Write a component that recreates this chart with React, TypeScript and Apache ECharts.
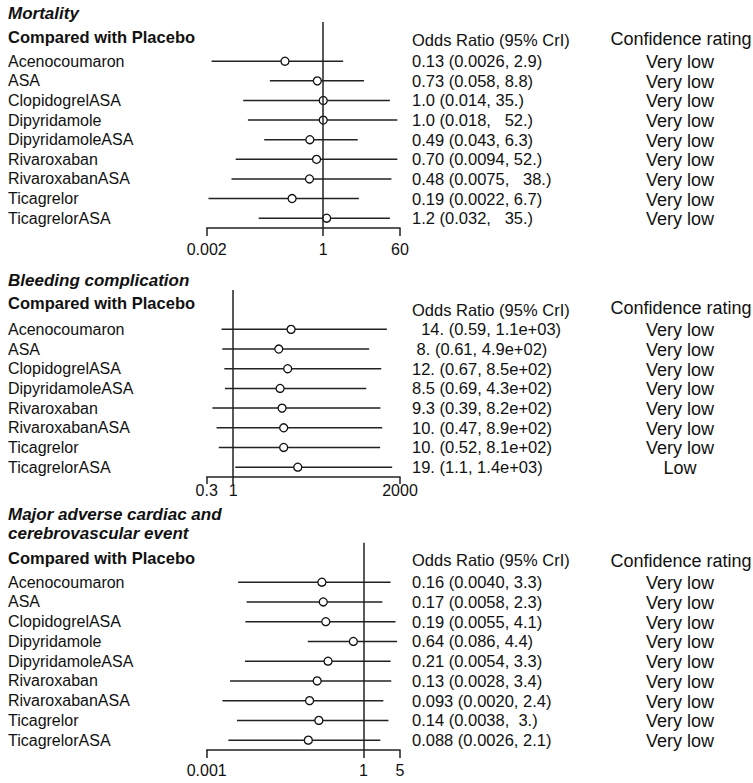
import React, { useEffect, useRef } from "react";
import * as echarts from "echarts";

// ---------- Data ----------
const mortalityTreatments = ["Acenocoumaron", "ASA", "ClopidogrelASA", "Dipyridamole", "DipyridamoleASA", "Rivaroxaban", "RivaroxabanASA", "Ticagrelor", "TicagrelorASA"];
const mortalityOR = [0.13, 0.73, 1.0, 1.0, 0.49, 0.70, 0.48, 0.19, 1.2];
const mortalityLow = [0.0026, 0.058, 0.014, 0.018, 0.043, 0.0094, 0.0075, 0.0022, 0.032];
const mortalityHigh = [2.9, 8.8, 35, 52, 6.3, 52, 38, 6.7, 35];
const mortalityText = ["0.13 (0.0026, 2.9)", "0.73 (0.058, 8.8)", "1.0 (0.014, 35.)", "1.0 (0.018,   52.)", "0.49 (0.043, 6.3)", "0.70 (0.0094, 52.)", "0.48 (0.0075,   38.)", "0.19 (0.0022, 6.7)", "1.2 (0.032,   35.)"];
const mortalityRating = ["Very low", "Very low", "Very low", "Very low", "Very low", "Very low", "Very low", "Very low", "Very low"];
const mortalityTicks = [0.002, 1, 60];

const bleedingTreatments = ["Acenocoumaron", "ASA", "ClopidogrelASA", "DipyridamoleASA", "Rivaroxaban", "RivaroxabanASA", "Ticagrelor", "TicagrelorASA"];
const bleedingOR = [14, 8, 12, 8.5, 9.3, 10, 10, 19];
const bleedingLow = [0.59, 0.61, 0.67, 0.69, 0.39, 0.47, 0.52, 1.1];
const bleedingHigh = [1100, 490, 850, 430, 820, 890, 810, 1400];
const bleedingText = ["  14. (0.59, 1.1e+03)", " 8. (0.61, 4.9e+02)", "12. (0.67, 8.5e+02)", "8.5 (0.69, 4.3e+02)", "9.3 (0.39, 8.2e+02)", "10. (0.47, 8.9e+02)", "10. (0.52, 8.1e+02)", "19. (1.1, 1.4e+03)"];
const bleedingRating = ["Very low", "Very low", "Very low", "Very low", "Very low", "Very low", "Very low", "Low"];
const bleedingTicks = [0.3, 1, 2000];

const maccTreatments = ["Acenocoumaron", "ASA", "ClopidogrelASA", "Dipyridamole", "DipyridamoleASA", "Rivaroxaban", "RivaroxabanASA", "Ticagrelor", "TicagrelorASA"];
const maccOR = [0.16, 0.17, 0.19, 0.64, 0.21, 0.13, 0.093, 0.14, 0.088];
const maccLow = [0.004, 0.0058, 0.0055, 0.086, 0.0054, 0.0028, 0.002, 0.0038, 0.0026];
const maccHigh = [3.3, 2.3, 4.1, 4.4, 3.3, 3.4, 2.4, 3, 2.1];
const maccText = ["0.16 (0.0040, 3.3)", "0.17 (0.0058, 2.3)", "0.19 (0.0055, 4.1)", "0.64 (0.086, 4.4)", "0.21 (0.0054, 3.3)", "0.13 (0.0028, 3.4)", "0.093 (0.0020, 2.4)", "0.14 (0.0038,  3.)", "0.088 (0.0026, 2.1)"];
const maccRating = ["Very low", "Very low", "Very low", "Very low", "Very low", "Very low", "Very low", "Very low", "Very low"];
const maccTicks = [0.001, 1, 5];

const panelTitles = [["Mortality"], ["Bleeding complication"], ["Major adverse cardiac and", "cerebrovascular event"]];
const subTitle = "Compared with Placebo";
const orHeader = "Odds Ratio (95% CrI)";
const ratingHeader = "Confidence rating";

// ---------- Layout ----------
const FONT = "'Liberation Sans', Arial, Helvetica, sans-serif";
const INK = "#111";
const LINE = "#222";
const GRID_LEFT = 206.7;
const GRID_WIDTH = 193.3;
const LABEL_X = 8;
const OR_X = 412;
const RATING_X = 680;

const panels = [
  { treatments: mortalityTreatments, or: mortalityOR, low: mortalityLow, high: mortalityHigh, text: mortalityText, rating: mortalityRating, ticks: mortalityTicks,
    top: 22, bottom: 228, labelMargin: 13, tickLen: 8, titleY: [13], subY: 37, orY: 39.5, ratingY: 38.5 },
  { treatments: bleedingTreatments, or: bleedingOR, low: bleedingLow, high: bleedingHigh, text: bleedingText, rating: bleedingRating, ticks: bleedingTicks,
    top: 290, bottom: 477, labelMargin: 5, tickLen: 7, titleY: [280], subY: 303, orY: 309.5, ratingY: 308 },
  { treatments: maccTreatments, or: maccOR, low: maccLow, high: maccHigh, text: maccText, rating: maccRating, ticks: maccTicks,
    top: 542.7, bottom: 750, labelMargin: 12, tickLen: 8, titleY: [514, 533.5], subY: 557.5, orY: 559.5, ratingY: 561 },
];

export default function App() {
  const ref = useRef<HTMLDivElement>(null);
  useEffect(() => {
    document.body.style.margin = "0";
    if (!ref.current) return;
    const chart = echarts.init(ref.current, null, { renderer: "svg" });

    const grids: any[] = [];
    const xAxes: any[] = [];
    const yAxes: any[] = [];
    const series: any[] = [];
    const graphics: any[] = [];

    panels.forEach((p, i) => {
      const n = p.treatments.length;
      grids.push({ left: GRID_LEFT, width: GRID_WIDTH, top: p.top, height: p.bottom - p.top, containLabel: false });
      const tickLogs = p.ticks.map((t) => Math.log10(t));
      xAxes.push({
        gridIndex: i,
        type: "value",
        min: tickLogs[0],
        max: tickLogs[tickLogs.length - 1],
        position: "bottom",
        splitLine: { show: false },
        axisLine: { show: true, onZero: false, lineStyle: { color: LINE, width: 1.5 } },
        axisTick: { show: true, customValues: tickLogs, length: p.tickLen, lineStyle: { color: LINE, width: 1.5 } },
        axisLabel: {
          show: true,
          customValues: tickLogs,
          margin: p.labelMargin,
          color: INK,
          fontSize: 16,
          fontFamily: FONT,
          formatter: (v: number) => {
            let best = 0;
            tickLogs.forEach((t, k) => { if (Math.abs(t - v) < Math.abs(tickLogs[best] - v)) best = k; });
            return String(p.ticks[best]);
          },
        },
      });
      yAxes.push({ gridIndex: i, type: "value", inverse: true, min: -1, max: n + 0.5, show: false });

      const ciData = p.treatments.map((_, k) => [k + 1, Math.log10(p.low[k]), Math.log10(p.high[k])]);
      series.push({
        type: "custom",
        xAxisIndex: i,
        yAxisIndex: i,
        silent: true,
        data: ciData,
        encode: { x: [1, 2], y: 0 },
        renderItem: (params: any, api: any) => {
          const row = api.value(0);
          const a = api.coord([api.value(1), row]);
          const b = api.coord([api.value(2), row]);
          const k = params.dataIndex;
          return {
            type: "group",
            children: [
              { type: "line", shape: { x1: a[0], y1: a[1], x2: b[0], y2: b[1] }, style: { stroke: LINE, lineWidth: 1.5 } },
              { type: "text", style: { text: p.treatments[k], x: LABEL_X, y: a[1], textAlign: "left", textVerticalAlign: "middle", fontSize: 16, fontFamily: FONT, fill: INK } },
              { type: "text", style: { text: p.text[k], x: OR_X, y: a[1], textAlign: "left", textVerticalAlign: "middle", fontSize: 16.5, fontFamily: FONT, fill: INK } },
              { type: "text", style: { text: p.rating[k], x: RATING_X, y: a[1] + 1, textAlign: "center", textVerticalAlign: "middle", fontSize: 18, fontFamily: FONT, fill: INK } },
            ],
          };
        },
        z: 2,
      });
      series.push({
        type: "scatter",
        xAxisIndex: i,
        yAxisIndex: i,
        silent: true,
        symbol: "circle",
        symbolSize: 8,
        itemStyle: { color: "#fff", borderColor: INK, borderWidth: 1.3, opacity: 1 },
        data: p.or.map((v, k) => [Math.log10(v), k + 1]),
        z: 4,
        markLine: {
          silent: true,
          symbol: ["none", "none"],
          label: { show: false },
          lineStyle: { color: LINE, width: 1.5, type: "solid" },
          emphasis: { disabled: true },
          data: [{ xAxis: 0 }],
        },
      });

      p.titleY.forEach((y, t) => {
        graphics.push({ type: "text", x: LABEL_X, y, style: { text: panelTitles[i][t], textAlign: "left", textVerticalAlign: "middle", fontSize: 17, fontWeight: "bold", fontStyle: "italic", fontFamily: FONT, fill: INK } });
      });
      graphics.push({ type: "text", x: LABEL_X, y: p.subY, style: { text: subTitle, textAlign: "left", textVerticalAlign: "middle", fontSize: 16.5, fontWeight: "bold", fontFamily: FONT, fill: INK } });
      graphics.push({ type: "text", x: OR_X, y: p.orY, style: { text: orHeader, textAlign: "left", textVerticalAlign: "middle", fontSize: 16.5, fontFamily: FONT, fill: INK } });
      graphics.push({ type: "text", x: RATING_X + 1, y: p.ratingY, style: { text: ratingHeader, textAlign: "center", textVerticalAlign: "middle", fontSize: 18, fontFamily: FONT, fill: INK } });
    });

    chart.setOption({
      animation: false,
      backgroundColor: "#fff",
      grid: grids,
      xAxis: xAxes,
      yAxis: yAxes,
      series,
      graphic: { elements: graphics },
    });
    return () => chart.dispose();
  }, []);
  return <div ref={ref} style={{ width: 753, height: 783 }} />;
}
